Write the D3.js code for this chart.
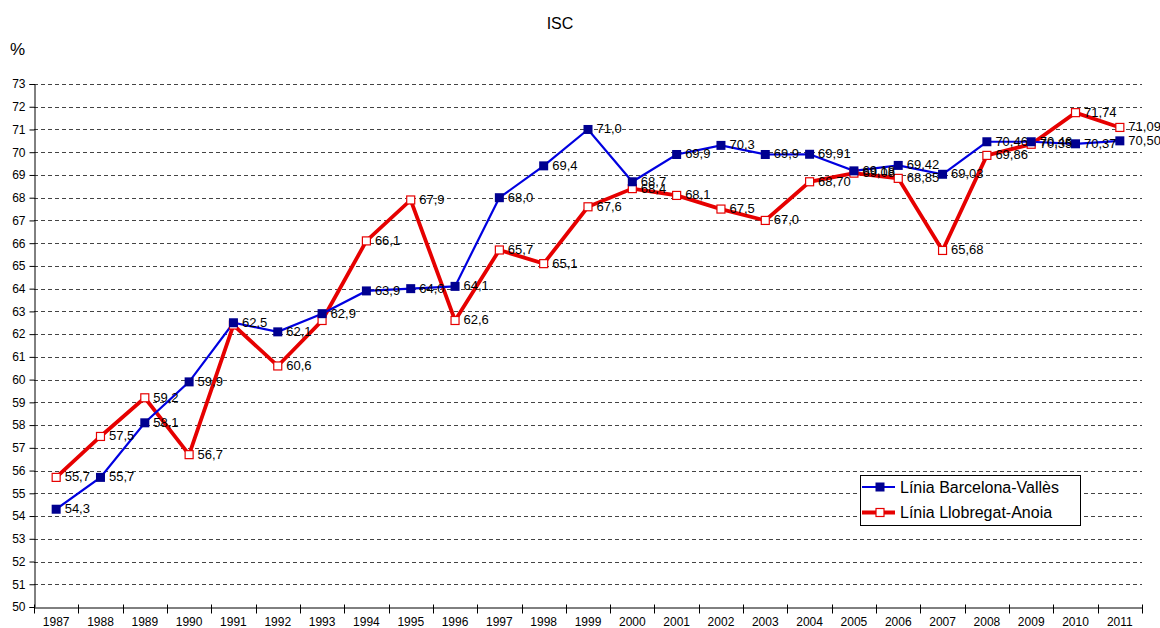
<!DOCTYPE html>
<html><head><meta charset="utf-8">
<script src="https://cdn.jsdelivr.net/npm/d3@7"></script>
<style>body{margin:0;background:#fff;}svg{display:block;font-family:"Liberation Sans",Arial,sans-serif;}</style>
</head><body>
<svg id="c" width="1160" height="628"></svg>
<script>
const years = ["1987","1988","1989","1990","1991","1992","1993","1994","1995","1996","1997","1998","1999","2000","2001","2002","2003","2004","2005","2006","2007","2008","2009","2010","2011"];
const barcelonaValles = [54.3,55.7,58.1,59.9,62.5,62.1,62.9,63.9,64.0,64.1,68.0,69.4,71.0,68.7,69.9,70.3,69.9,69.91,69.18,69.42,69.03,70.46,70.46,70.37,70.50];
const barcelonaLabels = ["54,3","55,7","58,1","59,9","62,5","62,1","62,9","63,9","64,0","64,1","68,0","69,4","71,0","68,7","69,9","70,3","69,9","69,91","69,18","69,42","69,03","70,46","70,46","70,37","70,50"];
const llobregatAnoia = [55.7,57.5,59.2,56.7,62.4,60.6,62.6,66.1,67.9,62.6,65.7,65.1,67.6,68.4,68.1,67.5,67.0,68.70,69.08,68.85,65.68,69.86,70.35,71.74,71.09];
const llobregatLabels = ["55,7","57,5","59,2","56,7","","60,6","","66,1","67,9","62,6","65,7","65,1","67,6","68,4","68,1","67,5","67,0","68,70","69,08","68,85","65,68","69,86","70,35","71,74","71,09"];
const yTicks = d3.range(50,74,1);
const seriesNames = ["Línia Barcelona-Vallès","Línia Llobregat-Anoia"];

const svg = d3.select("#c");
const x = d3.scaleBand().domain(years).range([34,1142]).paddingInner(0);
const y = d3.scaleLinear().domain([50,73]).range([607,84]);
const FONT = "Liberation Sans, Arial, sans-serif";

// title
svg.append("text").attr("x",560).attr("y",29).attr("text-anchor","middle").attr("font-size",16).text("ISC");
svg.append("text").attr("x",10).attr("y",55).attr("font-size",17).text("%");

// gridlines
svg.append("g").selectAll("line").data(yTicks.filter(d=>d>50)).join("line")
  .attr("x1",34).attr("x2",1142).attr("y1",d=>Math.round(y(d))+0.5).attr("y2",d=>Math.round(y(d))+0.5)
  .attr("stroke","#444").attr("stroke-width",1).attr("stroke-dasharray","4,3");

// y axis
const ya = svg.append("g").attr("transform","translate(34.5,0)")
  .call(d3.axisLeft(y).tickValues(yTicks).tickSize(5).tickPadding(4).tickFormat(d3.format("d")));
ya.select(".domain").attr("stroke","#000");
ya.selectAll("text").attr("font-size",12).attr("font-family",FONT).attr("fill","#000");
ya.selectAll("line").attr("stroke","#000");

// x axis
const xa = svg.append("g").attr("transform","translate(0,607.5)")
  .call(d3.axisBottom(x).tickSize(0).tickPadding(0));
xa.select(".domain").attr("stroke","#000");
xa.selectAll("text").attr("font-size",12).attr("font-family",FONT).attr("fill","#000").attr("dy",null).attr("y",18.5);
xa.append("g").selectAll("line").data(years.concat(["end"])).join("line")
  .attr("x1",(d,i)=>Math.round(34+i*x.bandwidth())+0.5).attr("x2",(d,i)=>Math.round(34+i*x.bandwidth())+0.5)
  .attr("y1",-3).attr("y2",6).attr("stroke","#000");

const cx = d => x(d)+x.bandwidth()/2;
const line = d3.line().x((d,i)=>cx(years[i])).y(d=>y(d));

// red series
svg.append("path").datum(llobregatAnoia).attr("d",line).attr("fill","none").attr("stroke","#e60000").attr("stroke-width",3.8).attr("stroke-linejoin","miter");
// blue series
svg.append("path").datum(barcelonaValles).attr("d",line).attr("fill","none").attr("stroke","#0000e0").attr("stroke-width",2.2);

// red markers
svg.append("g").selectAll("rect").data(llobregatAnoia).join("rect")
  .attr("x",(d,i)=>cx(years[i])-4).attr("y",d=>y(d)-4).attr("width",8).attr("height",8)
  .attr("fill","#fff").attr("stroke","#e60000").attr("stroke-width",1.2);
// blue markers
svg.append("g").selectAll("rect").data(barcelonaValles).join("rect")
  .attr("x",(d,i)=>cx(years[i])-4.5).attr("y",d=>y(d)-4.5).attr("width",9).attr("height",9)
  .attr("fill","#000090");

// labels
const lab = (vals, labels) => svg.append("g").selectAll("text").data(vals).join("text")
  .attr("x",(d,i)=>cx(years[i])+8.5).attr("y",d=>y(d)+4).attr("font-size",13).attr("fill","#000")
  .text((d,i)=>labels[i]);
lab(llobregatAnoia, llobregatLabels);
lab(barcelonaValles, barcelonaLabels);

// legend
const lg = svg.append("g");
lg.append("rect").attr("x",860.5).attr("y",475.5).attr("width",220).attr("height",50).attr("fill","#fff").attr("stroke","#000");
const colors = ["#0000e0","#e60000"];
seriesNames.forEach((n,i)=>{
  const yy = 487+i*25.5;
  lg.append("line").attr("x1",862).attr("x2",895).attr("y1",yy).attr("y2",yy).attr("stroke",colors[i]).attr("stroke-width",i?3.8:2.2);
  if(i===0) lg.append("rect").attr("x",875.5).attr("y",yy-4.5).attr("width",9).attr("height",9).attr("fill","#000090");
  else lg.append("rect").attr("x",876).attr("y",yy-4).attr("width",8).attr("height",8).attr("fill","#fff").attr("stroke","#e60000").attr("stroke-width",1.2);
  lg.append("text").attr("x",900).attr("y",yy+5.5).attr("font-size",16).text(n);
});
</script>
</body></html>
